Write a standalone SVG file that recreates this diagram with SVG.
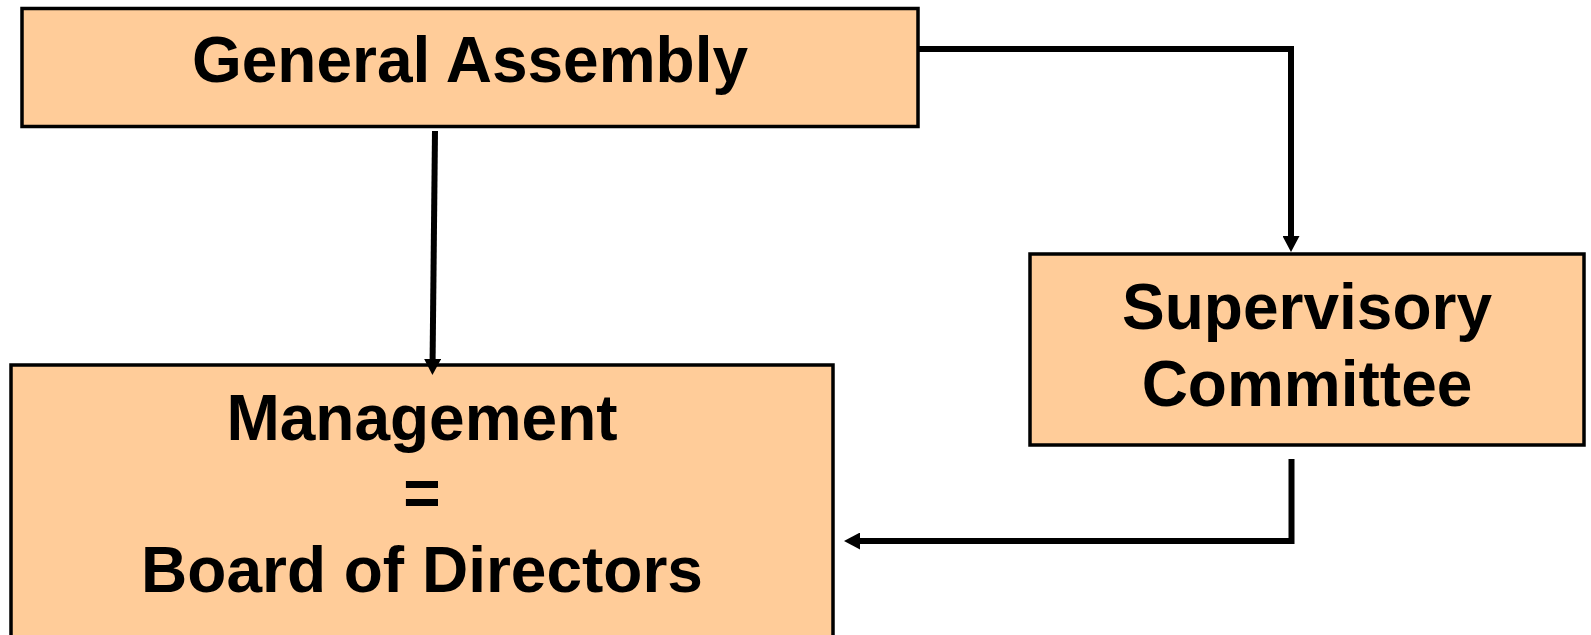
<svg xmlns="http://www.w3.org/2000/svg" width="1591" height="635" viewBox="0 0 1591 635">
  <style>
    .box { fill: #FFCC99; stroke: #000000; stroke-width: 3.5; }
    .lbl { font-family: "Liberation Sans", Arial, sans-serif; font-weight: bold; font-size: 64px; fill: #000000; text-anchor: middle; }
    .conn { fill: none; stroke: #000000; stroke-width: 6; stroke-linejoin: miter; }
  </style>
  <defs>
    <marker id="arrow" viewBox="0 0 16 17" refX="0" refY="8.5" markerWidth="16" markerHeight="17" markerUnits="userSpaceOnUse" orient="auto">
      <path d="M0,0 L16,8.5 L0,17 z" fill="#000000"/>
    </marker>
  </defs>
  <rect width="1591" height="635" fill="#ffffff"/>

  <g id="node-general-assembly">
    <rect class="box" x="22" y="8.5" width="896" height="118"/>
    <text class="lbl" x="470" y="82">General Assembly</text>
  </g>

  <g id="node-supervisory-committee">
    <rect class="box" x="1030" y="254" width="554" height="191"/>
    <text class="lbl" x="1307" y="329">Supervisory</text>
    <text class="lbl" x="1307" y="406">Committee</text>
  </g>

  <g id="node-management">
    <rect class="box" x="11" y="365" width="822" height="290"/>
    <text class="lbl" x="422" y="440">Management</text>
    <text class="lbl" x="422" y="515">=</text>
    <text class="lbl" x="422" y="592">Board of Directors</text>
  </g>

  <g id="connectors">
    <path class="conn" d="M918,49 H1291 V236" marker-end="url(#arrow)"/>
    <path class="conn" d="M435,131 L432.6,359" marker-end="url(#arrow)"/>
    <path class="conn" d="M1291.5,459 V541 H860" marker-end="url(#arrow)"/>
  </g>
</svg>
